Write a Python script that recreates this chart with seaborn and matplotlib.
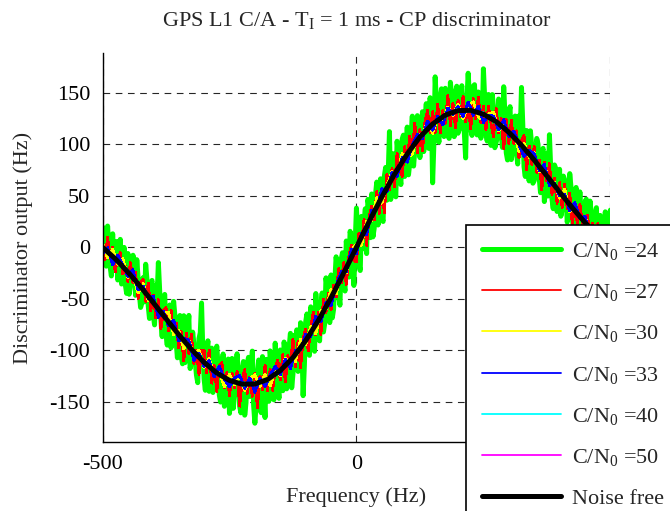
import numpy as np
import matplotlib
matplotlib.use("Agg")
import matplotlib.pyplot as plt
import seaborn as sns

# frequency grids (Hz)
freq_5 = np.arange(-500, 501, 5)
freq_mid = np.arange(-497.5, 500, 5)
freq_10 = np.arange(-500, 501, 10)
freq_25 = np.arange(-500, 501, 25)

# C/N0 = 24 dB-Hz, samples on the 5 Hz grid
cn24 = [
    -8, 11.8, 20.6, -18.7, 13.1, -1.1, -31.7, 7.7, -13.8, -36.4,
    -6, -36.9, -7.7, -46.6, -29.4, -58.3, -29.4, -16.4, -56.5, -35.5,
    -65.6, -36.7, -14.8, -71, -50.1, -84.2, -62.3, -97.4, -52.4, -91.5,
    -70.6, -105.5, -66.3, -99.2, -66, -110.9, -93.4, -123.9, -88.5, -54,
    -127.5, -101.6, -139.6, -97.7, -127.7, -95.8, -143.2, -114.7, -154.1, -111.6,
    -161, -107.7, -140.5, -103.2, -154, -118.7, -162.7, -112.6, -144.6, -100.6,
    -170.5, -121.6, -156.7, -105.9, -165, -120.1, -100.4, -142.7, -92.9, -133.2,
    -99.5, -139, -100.5, -121.9, -83.4, -122.9, -91.6, -120.3, -73.1, -143.8,
    -72.5, -100.6, -57.7, -86.8, -44.8, -86.9, -56.5, -82.1, -29.6, -59.2,
    -26.8, -60, -9.2, -46.5, -11.7, -34.9, 6.1, -28.9, 10, -37,
    38, -17, 30, 22.9, -6.1, 38.9, 51.7, 18.5, 63.2, 34,
    28.8, 69.2, 45.6, 112.1, 70.5, 56.9, 102.8, 70.8, 104.7, 68.6,
    116.5, 81.8, 127.1, 94.3, 127.6, 86.9, 131.4, 119.9, 98.5, 145,
    62.5, 165.2, 108.9, 144.7, 116.4, 154.1, 109, 159.9, 122.7, 149.6,
    110.5, 148.6, 120.6, 86.6, 168.7, 114.7, 156, 117.2, 150.5, 105.7,
    173, 111.6, 148.1, 98.7, 135.2, 101.8, 143.7, 109.7, 155.6, 91.6,
    129.5, 85, 120.5, 93.9, 127.4, 154.9, 78, 113.2, 64.3, 99.5,
    64.6, 105.5, 66.4, 91.4, 44.3, 91.2, 109.1, 47, 79.8, 34.7,
    75.6, 36.5, 65.5, 24.4, 71.4, 28.3, 51.4, 10.6, 53.7, 14.9,
    44, 5.4, 44.8, 8.3, 31.7, -8.9, 30.9, -5.3, 34.4, 12.2,
    36,
]
# C/N0 = 24 dB-Hz, samples between them (-497.5 ... 497.5 Hz)
cn24_mid = [
    18.9, -18.3, -0.6, -27.8, -22, 5.6, -21, -35.6, -0.1, -44.7,
    -45.5, -20.3, -13.2, -12, -44.9, -53.9, -52.9, -31, -69, -32.1,
    -75.2, -48.3, -41.4, -86.6, -45.7, -94.8, -55.9, -88.9, -66, -107.1,
    -66.1, -112.9, -111.8, -82.6, -117.5, -82.2, -110.7, -131.2, -82.8, -100.3,
    -138.6, -90.6, -126.7, -140.7, -104.8, -114.5, -150, -103.4, -138.9, -108.3,
    -143.4, -156.1, -116.9, -125.6, -160.4, -110.7, -150.7, -106.6, -120.6, -152.6,
    -152.1, -109.2, -160.3, -139.5, -108.6, -149.3, -111.6, -147.8, -114.1, -146.4,
    -128.3, -91.8, -137.2, -96.7, -136.2, -85.3, -80, -110.7, -91.5, -114.2,
    -64.6, -104.7, -68.8, -100.8, -62.9, -90.7, -44.3, -73.9, -39.4, -73,
    -68.4, -31.6, -20.9, -56.1, -5.3, -42.4, -5.4, 15.5, -21.5, 3.5,
    12.5, -22.5, -1.5, 37.4, 46.4, 9.3, 10.1, 50.9, 21.6, 66.4,
    25, 77.4, 69.9, 46.3, 90.7, 48.9, 90.8, 60.8, 108.7, 80.6,
    70.2, 107.5, 78.7, 120, 97.3, 98.2, 92.7, 139.2, 95.8, 132.3,
    100.4, 140.1, 101.8, 153.6, 107.3, 138.6, 105.5, 146.3, 107.2, 156.1,
    114.6, 156.6, 110.6, 142.7, 146.7, 108.4, 157.6, 108.9, 146.1, 115.4,
    144.3, 102.9, 135.4, 148, 96.5, 106.8, 136.7, 96.7, 126.6, 84.6,
    136.3, 93.8, 127.2, 80.7, 110.2, 119.5, 68.6, 105.8, 112.9, 62.1,
    73.1, 100, 52.9, 95.9, 56.8, 49.7, 76.6, 37.4, 76.3, 45.2,
    30.1, 69, 54, 30.9, 57.9, 14.9, 58, 15.2, 8.3, 39.5,
    46.7, 0.1, 31.6, -7, 38.4, -4, 23.8, -16.4, -10.7, 19.1,
]

# C/N0 = 27 dB-Hz (5 Hz steps)
cn27 = [
    6, -12.2, 9.6, -10.7, 0.1, -24.1, -8.7, -5.3, -25.8, -18.4,
    -33, -14.9, -34.7, -24.6, -49.4, -34.3, -31.4, -52.4, -34.5, -61.5,
    -46.6, -68.7, -50.8, -79, -61.1, -58.2, -81.3, -61.4, -84.4, -73.5,
    -97.6, -81.5, -110.3, -83.2, -103, -83.9, -112.4, -99.9, -123.5, -100,
    -99.5, -121.6, -99.6, -131.7, -114.7, -139.8, -114.2, -111.7, -136.1, -121.6,
    -144, -121.7, -136.5, -120.2, -154, -128.7, -118.7, -141.6, -125.6, -144.6,
    -122.5, -155.6, -124.7, -137.9, -114, -139.1, -118.4, -138.7, -117.9, -109.2,
    -128.5, -104, -130.5, -104.9, -114.4, -88.9, -115.6, -91.3, -117.1, -87.8,
    -79.5, -100.6, -77.7, -62.8, -84.8, -62.9, -84.5, -50.1, -63.6, -44.2,
    -60.8, -37, -48.2, -20.5, -34.7, -14.9, -35.9, -8.9, 2, -13,
    -14, 14, 4, 26.9, 1.9, 29.9, 39.7, 26.5, 54.2, 33,
    56.8, 33.2, 70.6, 56.1, 76.5, 58.9, 90.8, 74.8, 68.7, 97.6,
    82.5, 107.8, 92.1, 120.3, 91.6, 113.9, 93.4, 121.9, 132.5, 111,
    131.5, 111.2, 138.9, 110.7, 132.4, 120.1, 147, 117.9, 139.7, 115.6,
    142.5, 126.6, 146.6, 121.6, 137.7, 114.7, 144, 124.2, 145.5, 120.7,
    137, 113.6, 137.1, 119.7, 107.2, 134.8, 110.7, 124.7, 95.6, 123.6,
    100.5, 123, 100.5, 112.9, 86.4, 103.9, 108, 75.2, 98.3, 80.5,
    97.6, 72.5, 84.4, 55.4, 82.3, 64.2, 81.1, 51, 66.8, 42.7,
    62.6, 38.5, 61.5, 37.4, 52.4, 22.3, 41.4, 22.6, 41.7, 21.9,
    16, 31.4, 5.8, 23.3, 7.7, 23.1, -0.1, 11.7, -6.6, 10.2,
    4,
]

# C/N0 = 30 dB-Hz (10 Hz steps)
cn30 = [
    4, -10.4, -1.9, -16.7, -10.8, -29, -27.7, -44.4, -35.4, -51.5,
    -48.6, -66.8, -63.1, -63.3, -84.4, -80.6, -98.3, -90, -103.4, -99.5,
    -116.5, -107.6, -123.7, -120.2, -135.1, -123, -133.5, -125, -138.7, -127.6,
    -123.5, -134.7, -123, -134.4, -119.9, -124.5, -107.5, -111.4, -110.6, -89.1,
    -94.5, -76.7, -83.8, -61.5, -60.6, -40.8, -45.2, -25.7, -24.9, -3,
    3,
    2, 24.9, 25.7, 48.2, 42.8, 59.6, 73.5, 69.8, 90.7, 87.5,
    90.1, 109.6, 107.4, 122.5, 110.5, 126.9, 121.4, 136, 127.7, 138.5,
    124.6, 137.7, 141, 126.5, 123, 129.1, 131.2, 112.7, 119.6, 109.5,
    112.5, 92.4, 101, 87.3, 91.6, 73.4, 80.3, 62.1, 62.8, 47.6,
    56.5, 34.4, 39.4, 27.7, 30, 13.8, 21.7, 5.9, 9.4, -4,
]

# C/N0 = 33 dB-Hz (10 Hz steps)
cn33 = [
    -6, -0.4, -16.9, -7.7, -16.8, -28, -21.7, -41.4, -37.4, -49.5,
    -47.6, -67.8, -62.1, -76.3, -70.4, -90.6, -88.3, -90, -109.4, -102.5,
    -115.5, -109.6, -125.7, -115.2, -128.1, -135, -126.5, -124, -136.7, -126.6,
    -140.5, -126.7, -135, -124.4, -114.9, -123.5, -108.5, -117.4, -99.6, -99.1,
    -84.5, -86.7, -66.8, -72.5, -53.6, -56.8, -37.2, -23.7, -23.9, -2,
    -6,
    14, 11.9, 35.7, 37.2, 56.8, 53.6, 72.5, 68.8, 86.7, 82.5,
    99.1, 109.6, 105.4, 122.5, 113.5, 126.9, 118.4, 135, 128.7, 136.5,
    126.6, 140.7, 128, 136.5, 121, 128.1, 127.2, 113.7, 123.6, 107.5,
    112.5, 99.4, 88, 94.3, 90.6, 74.4, 80.3, 60.1, 61.8, 49.6,
    51.5, 35.4, 43.4, 27.7, 30, 10.8, 17.7, 4.9, 10.4, 2,
]

# C/N0 = 40 and 50 dB-Hz, noise free (25 Hz steps)
cn40 = [
    1.2, -12.0, -22.8, -39.5, -52.7, -70.4, -83.5, -100.1, -110.6, -123.0,
    -128.1, -133.9, -131.4, -129.3, -118.4, -108.0, -89.6, -72.1, -47.7, -26.0,
    1.1, 23.8, 50.0, 69.8, 91.6, 105.7, 120.7, 126.9, 133.6, 131.5,
    130.2, 120.6, 112.7, 97.8, 85.7, 68.0, 54.7, 37.2, 25.1, 10.0, -1.0,
]
cn50 = [
    0.4, -11.5, -23.6, -38.8, -53.1, -69.7, -84.2, -99.3, -111.1, -122.3,
    -128.6, -133.2, -132.0, -128.6, -119.1, -107.3, -90.1, -71.4, -48.4, -25.3,
    0.5, 24.4, 49.2, 70.4, 91.0, 106.4, 120.0, 127.6, 133.0, 132.2,
    129.5, 121.3, 112.0, 98.4, 85.1, 68.7, 54.1, 37.8, 24.5, 10.6, -0.4,
]
noise_free = [
    0, -11.1, -24.0, -38.3, -53.6, -69.2, -84.6, -98.9, -111.5, -121.8,
    -129.0, -132.7, -132.5, -128.1, -119.5, -106.9, -90.5, -70.9, -48.8, -24.9,
    0, 24.9, 48.8, 70.9, 90.5, 106.9, 119.5, 128.1, 132.5, 132.7,
    129.0, 121.8, 111.5, 98.9, 84.6, 69.2, 53.6, 38.3, 24.0, 11.1, 0,
]

# x, y, label, colour, width, antialiased
series = [
    (np.concatenate([freq_5, freq_mid]), cn24 + cn24_mid,
     r"C/N$_{\mathrm{0}}$ =24", "#00ff00", 3.6, True),
    (freq_5, cn27, r"C/N$_{\mathrm{0}}$ =27", "#ff0000", 1.3, False),
    (freq_10, cn30, r"C/N$_{\mathrm{0}}$ =30", "#ffff00", 1.3, False),
    (freq_10, cn33, r"C/N$_{\mathrm{0}}$ =33", "#0000ff", 1.3, False),
    (freq_25, cn40, r"C/N$_{\mathrm{0}}$ =40", "#00ffff", 1.3, False),
    (freq_25, cn50, r"C/N$_{\mathrm{0}}$ =50", "#ff00ff", 1.3, False),
    (freq_25, noise_free, "Noise free", "#000000", 3.6, True),
]

sns.set_style("white")
plt.rcParams["font.family"] = ["Liberation Serif", "DejaVu Serif"]
plt.rcParams["mathtext.fontset"] = "custom"
plt.rcParams["mathtext.rm"] = "Liberation Serif"
plt.rcParams["mathtext.it"] = "Liberation Serif:italic"
plt.rcParams["axes.unicode_minus"] = False

fig = plt.figure(figsize=(6.7, 5.11), dpi=100)
ax = fig.add_axes([0.153, 0.1344, 0.758, 0.7613])

for x, y, lab, col, lw, aa in series:
    sns.lineplot(x=x, y=y, color=col, linewidth=lw, label=lab,
                 estimator=None, sort=True, antialiased=aa, ax=ax)

ax.set_xlim(-500, 500)
ax.set_ylim(-189, 188)
ax.set_xticks([-500, 0, 500])
ax.set_xticklabels(["-500", "0", ""])  # 500 sits under the legend
ax.set_yticks([-150, -100, -50, 0, 50, 100, 150])
ax.grid(True, linestyle=(0, (6, 5)), color="0.15", linewidth=0.8)
for side in ["top", "right"]:
    ax.spines[side].set_visible(False)
for side in ["left", "bottom"]:
    ax.spines[side].set_color("black")
    ax.spines[side].set_linewidth(1.0)
ax.tick_params(direction="in", length=4, width=0.8, labelsize=16, pad=9,
               colors="black")

ax.set_xlabel("Frequency (Hz)", fontsize=16, labelpad=10)
ax.set_ylabel("Discriminator output (Hz)", fontsize=16, labelpad=12)
ax.set_title(r"GPS L1 C/A - T$_{\mathrm{I}}$ = 1 ms - CP discriminator",
             fontsize=16, pad=20)

handles, labels = ax.get_legend_handles_labels()
leg = ax.legend(handles, labels, loc="upper left",
                bbox_to_anchor=(466 / 670, 1 - 225 / 511),
                bbox_transform=fig.transFigure, borderaxespad=0,
                fontsize=16, handlelength=3.56, handletextpad=0.5,
                labelspacing=0.915, borderpad=0.7, frameon=True,
                fancybox=False, framealpha=1, edgecolor="black")
leg.get_frame().set_linewidth(1.2)

fig.savefig("out.png", dpi=100)
